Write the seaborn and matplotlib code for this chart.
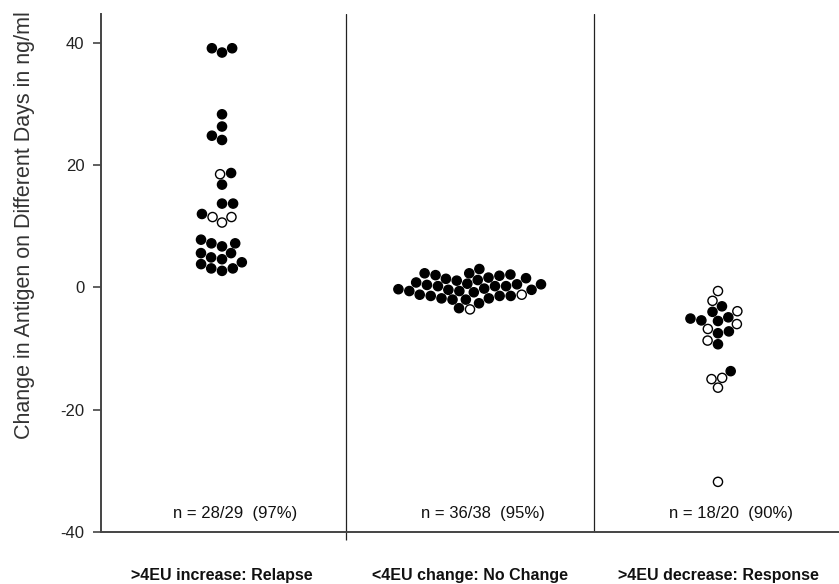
import matplotlib
matplotlib.use("Agg")
import matplotlib.pyplot as plt
import pandas as pd
import seaborn as sns

categories = [">4EU increase: Relapse", "<4EU change: No Change", ">4EU decrease: Response"]

relapse_filled = [38.4, 39.1, 39.1, 28.3, 26.3, 24.8, 24.1, 18.7, 16.8, 13.7, 13.7,
                  12.0, 7.2, 7.2, 7.8, 6.7, 5.6, 4.9, 5.6, 4.6, 3.8, 3.1, 3.1, 4.1, 2.7]
relapse_open = [18.5, 11.5, 11.5, 10.6]

nochange_filled = [0.2, -0.6, -2.0,
                   2.0, 1.1, 0.2, -0.6, -1.4,
                   2.3, 1.2, 0.2, -0.8, -1.8,
                   1.4, 0.5, -0.4, -1.2, -2.0, -2.6,
                   3.0, 1.9, 0.8, -0.3, -1.4,
                   1.6, 0.6, -0.4, -1.4, -3.4,
                   2.3, 0.4,
                   1.5, -0.2, -1.8,
                   2.1, 0.5]
nochange_open = [-3.6, -1.2]

response_filled = [-3.1, -4.0, -4.9, -5.1, -5.4, -5.5, -7.2, -7.5, -9.3, -13.7]
response_open = [-0.6, -2.2, -3.9, -6.0, -6.8, -8.7, -14.8, -15.0, -16.4, -31.8]

n_labels = ["n = 28/29  (97%)", "n = 36/38  (95%)", "n = 18/20  (90%)"]
y_ticks = [-40, -20, 0, 20, 40]
y_label = "Change in Antigen on Different Days in ng/ml"

groups = [(relapse_filled, relapse_open), (nochange_filled, nochange_open),
          (response_filled, response_open)]
rows = []
for cat, (filled, opened) in zip(categories, groups):
    rows += [(cat, v, "filled") for v in filled]
    rows += [(cat, v, "open") for v in opened]
df = pd.DataFrame(rows, columns=["group", "value", "kind"])

sns.set_theme(style="ticks")
plt.rcParams["font.family"] = ["Liberation Sans", "DejaVu Sans"]

fig = plt.figure(figsize=(8.39, 5.84), dpi=100)
ax = fig.add_axes([101 / 839, 1 - 532 / 584, 738 / 839, (532 - 14) / 584])

sns.swarmplot(data=df, x="group", y="value", hue="kind", order=categories,
              hue_order=["filled", "open"],
              palette={"filled": "black", "open": "white"},
              edgecolor="black", linewidth=1.0, size=6.6, legend=False, ax=ax)

ax.set_xlim(-0.488, 2.488)
ax.set_ylim(-40, 44.7)
for xv in [0.5, 1.5]:
    ax.axvline(xv, color="#222222", lw=0.9, zorder=0)

for i, lab in enumerate(n_labels):
    ax.text(i + 0.053, -37, lab, ha="center", va="center", fontsize=12, color="#111111")

ax.set_yticks(y_ticks)
ax.set_yticklabels([str(t) for t in y_ticks], fontsize=12, color="#222222")
ax.set_xticks(range(len(categories)))
ax.set_xticklabels(categories, fontsize=11.5, fontweight="bold", color="#111111")
ax.tick_params(axis="x", length=0, pad=26)
ax.tick_params(axis="y", length=6, width=1.2, color="#444444", direction="out", pad=6)
ax.set_xticks([0.5], minor=True)
ax.tick_params(axis="x", which="minor", length=6, width=0.9, color="#222222")

ax.set_xlabel("")
ax.set_ylabel(y_label, fontsize=15.5, color="#333333")
ax.yaxis.set_label_coords(-0.089, 0.593)

for side in ["top", "right"]:
    ax.spines[side].set_visible(False)
for side in ["left", "bottom"]:
    ax.spines[side].set_color("#444444")
    ax.spines[side].set_linewidth(1.4)

fig.savefig("out.png", dpi=100)
